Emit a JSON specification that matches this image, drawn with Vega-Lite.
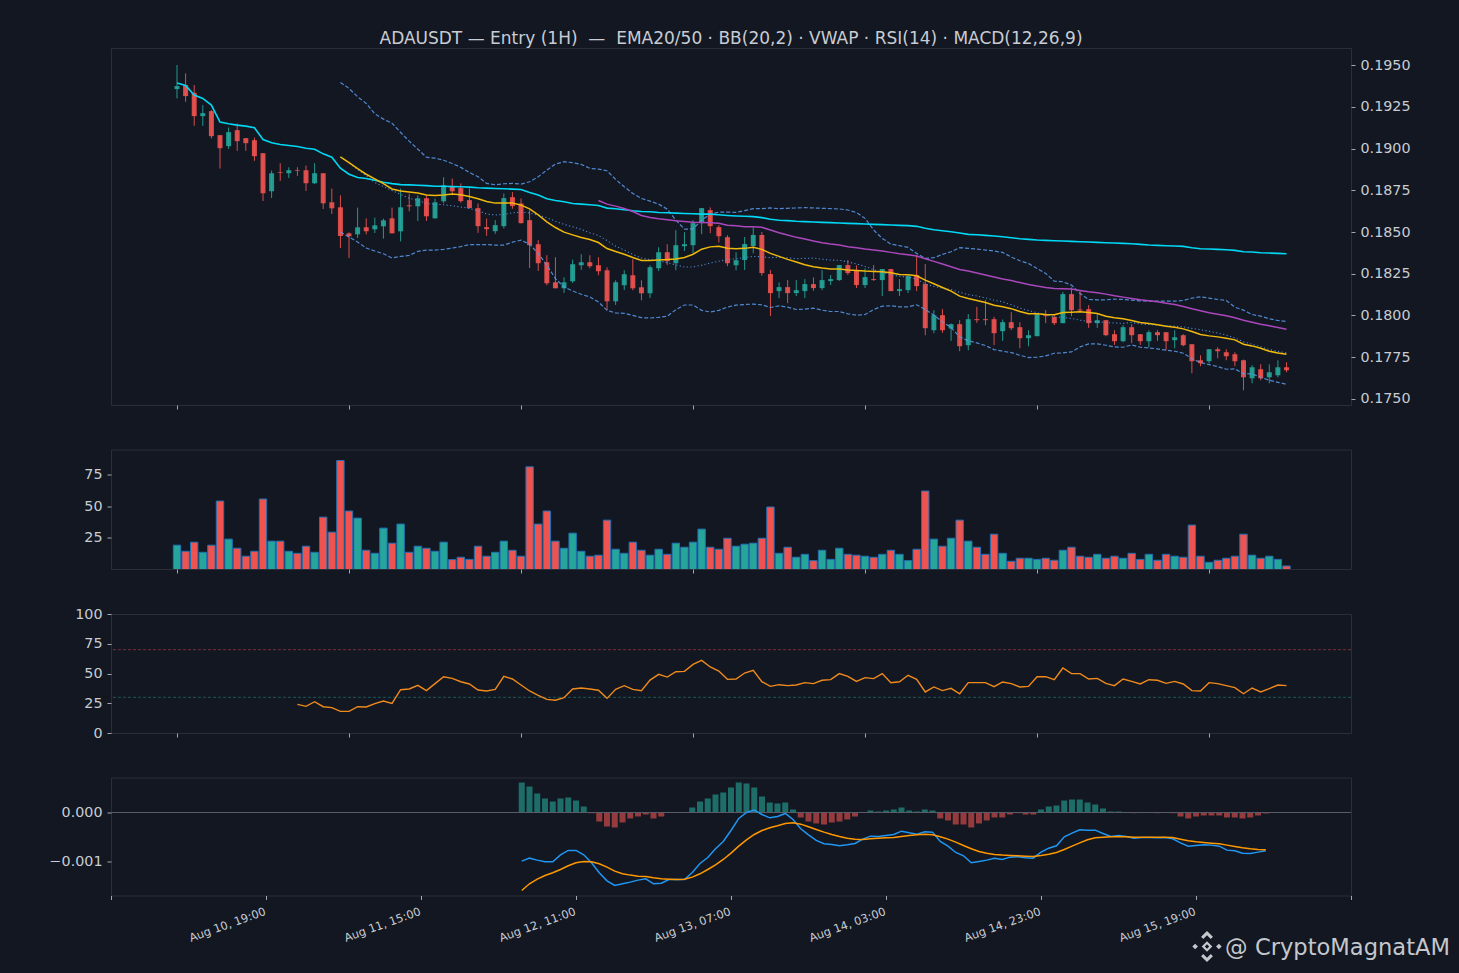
{
"$schema":"https://vega.github.io/schema/vega-lite/v6.json",
"background":"#121721",
"padding":{"left":48,"top":29,"right":11,"bottom":10},
"bounds":"flush",
"spacing":44.5,
"config":{
"font":"DejaVu Sans",
"view":{"stroke":"#2a2e39","fill":"#121721"},
"axis":{"grid":false,"domain":false,"tickColor":"#c8ccd3","tickSize":4,"tickWidth":0.8,"labelColor":"#c8ccd3","labelFontSize":14.3,"labelPadding":5,"labelOverlap":false,"title":null}
},
"data":{"values":[
{"i":0,"o":0.19356,"h":0.195,"l":0.193,"c":0.19374,"v":19.2,"vwap":0.19392},
{"i":1,"o":0.1938,"h":0.1945,"l":0.1928,"c":0.19314,"v":14.4,"vwap":0.19378},
{"i":2,"o":0.19334,"h":0.1938,"l":0.19136,"c":0.19194,"v":21.6,"vwap":0.1932},
{"i":3,"o":0.19194,"h":0.1926,"l":0.19136,"c":0.19212,"v":13.6,"vwap":0.193},
{"i":4,"o":0.19224,"h":0.1923,"l":0.1906,"c":0.19074,"v":19.2,"vwap":0.1926},
{"i":5,"o":0.1908,"h":0.1908,"l":0.1888,"c":0.19002,"v":54.1,"vwap":0.19158},
{"i":6,"o":0.19014,"h":0.19126,"l":0.18998,"c":0.19098,"v":24,"vwap":0.19148},
{"i":7,"o":0.1911,"h":0.1915,"l":0.18986,"c":0.19044,"v":16.8,"vwap":0.1914},
{"i":8,"o":0.19062,"h":0.19062,"l":0.18986,"c":0.19032,"v":10.5,"vwap":0.19134},
{"i":9,"o":0.1905,"h":0.19066,"l":0.18926,"c":0.18954,"v":14.4,"vwap":0.19124},
{"i":10,"o":0.18972,"h":0.18972,"l":0.18686,"c":0.18732,"v":55.7,"vwap":0.19054},
{"i":11,"o":0.18744,"h":0.18868,"l":0.18704,"c":0.18852,"v":22.4,"vwap":0.19034},
{"i":12,"o":0.18858,"h":0.18912,"l":0.18806,"c":0.18854,"v":22.4,"vwap":0.19024},
{"i":13,"o":0.18852,"h":0.18888,"l":0.18824,"c":0.1887,"v":14.4,"vwap":0.19018},
{"i":14,"o":0.1887,"h":0.18888,"l":0.18836,"c":0.18866,"v":12.8,"vwap":0.19012,"rsi":24.1},
{"i":15,"o":0.1887,"h":0.18898,"l":0.18746,"c":0.18792,"v":18.4,"vwap":0.19002,"rsi":22.4},
{"i":16,"o":0.18792,"h":0.18912,"l":0.18788,"c":0.18852,"v":13.6,"vwap":0.18996,"rsi":26.3},
{"i":17,"o":0.18852,"h":0.18852,"l":0.18638,"c":0.18672,"v":41.4,"vwap":0.18968,"rsi":22.1},
{"i":18,"o":0.18678,"h":0.1876,"l":0.18608,"c":0.18642,"v":29.5,"vwap":0.18948,"rsi":21.3},
{"i":19,"o":0.18648,"h":0.1872,"l":0.18404,"c":0.18476,"v":86.1,"vwap":0.18882,"rsi":18.2,"ema20":0.1895,"up":0.19396,"lo":0.185,"mid":0.18948},
{"i":20,"o":0.18492,"h":0.18498,"l":0.18344,"c":0.18474,"v":46.2,"vwap":0.18846,"rsi":18.2,"ema20":0.18916,"up":0.1936,"lo":0.1847,"mid":0.18915},
{"i":21,"o":0.18486,"h":0.18646,"l":0.18464,"c":0.18528,"v":40.6,"vwap":0.18826,"rsi":22.1,"ema20":0.1888,"up":0.1931,"lo":0.1844,"mid":0.18875},
{"i":22,"o":0.18528,"h":0.18582,"l":0.18486,"c":0.18504,"v":15.2,"vwap":0.1882,"rsi":21.9,"ema20":0.18846,"up":0.1927,"lo":0.18404,"mid":0.18837},
{"i":23,"o":0.18516,"h":0.18586,"l":0.18494,"c":0.1854,"v":12.8,"vwap":0.1881,"rsi":24.7,"ema20":0.18818,"up":0.19208,"lo":0.18386,"mid":0.18797},
{"i":24,"o":0.18534,"h":0.1858,"l":0.1846,"c":0.1857,"v":32.7,"vwap":0.18798,"rsi":26.9,"ema20":0.1879,"up":0.19176,"lo":0.1837,"mid":0.18773},
{"i":25,"o":0.18582,"h":0.18646,"l":0.18492,"c":0.18492,"v":20.8,"vwap":0.1879,"rsi":24.9,"ema20":0.18758,"up":0.19152,"lo":0.18344,"mid":0.18748},
{"i":26,"o":0.18504,"h":0.1876,"l":0.18444,"c":0.18648,"v":35.9,"vwap":0.18784,"rsi":36.4,"ema20":0.18746,"up":0.19096,"lo":0.18354,"mid":0.18725},
{"i":27,"o":0.1866,"h":0.1873,"l":0.18624,"c":0.18654,"v":13.6,"vwap":0.18782,"rsi":37,"ema20":0.1874,"up":0.19044,"lo":0.1836,"mid":0.18702},
{"i":28,"o":0.18654,"h":0.1872,"l":0.18566,"c":0.18702,"v":18.4,"vwap":0.1878,"rsi":40.1,"ema20":0.18734,"up":0.18996,"lo":0.18384,"mid":0.1869},
{"i":29,"o":0.18702,"h":0.1872,"l":0.18566,"c":0.18594,"v":16.8,"vwap":0.18778,"rsi":35.6,"ema20":0.18722,"up":0.18948,"lo":0.18392,"mid":0.1867},
{"i":30,"o":0.18582,"h":0.187,"l":0.1858,"c":0.18678,"v":14.4,"vwap":0.18774,"rsi":41.5,"ema20":0.18718,"up":0.18942,"lo":0.18392,"mid":0.18667},
{"i":31,"o":0.18684,"h":0.18828,"l":0.18672,"c":0.1878,"v":21.6,"vwap":0.18774,"rsi":47.3,"ema20":0.18722,"up":0.1893,"lo":0.18396,"mid":0.18663},
{"i":32,"o":0.18774,"h":0.1882,"l":0.1872,"c":0.18744,"v":7.8,"vwap":0.18772,"rsi":45.9,"ema20":0.18728,"up":0.1891,"lo":0.18404,"mid":0.18657},
{"i":33,"o":0.18763,"h":0.18791,"l":0.18675,"c":0.18685,"v":9.7,"vwap":0.18771,"rsi":43.1,"ema20":0.18723,"up":0.18887,"lo":0.18413,"mid":0.1865,"macd":-0.000993,"sig":-0.001591,"hist":0.000612},
{"i":34,"o":0.18691,"h":0.18761,"l":0.18641,"c":0.18643,"v":8,"vwap":0.18769,"rsi":41.2,"ema20":0.18713,"up":0.18857,"lo":0.18425,"mid":0.18641,"macd":-0.000932,"sig":-0.001455,"hist":0.00053},
{"i":35,"o":0.18643,"h":0.18671,"l":0.18495,"c":0.18535,"v":18.4,"vwap":0.18765,"rsi":36.1,"ema20":0.18699,"up":0.18831,"lo":0.18425,"mid":0.18628,"macd":-0.000972,"sig":-0.00136,"hist":0.000388},
{"i":36,"o":0.18529,"h":0.18581,"l":0.18477,"c":0.18517,"v":10.5,"vwap":0.18763,"rsi":35.3,"ema20":0.18683,"up":0.18791,"lo":0.18425,"mid":0.18608,"macd":-0.001006,"sig":-0.001285,"hist":0.000286},
{"i":37,"o":0.18505,"h":0.18571,"l":0.18489,"c":0.18541,"v":13.6,"vwap":0.18761,"rsi":36.7,"ema20":0.18673,"up":0.18783,"lo":0.18421,"mid":0.18602,"macd":-0.001006,"sig":-0.001231,"hist":0.000224},
{"i":38,"o":0.18535,"h":0.18731,"l":0.18521,"c":0.18703,"v":22.4,"vwap":0.18759,"rsi":47.6,"ema20":0.18673,"up":0.18789,"lo":0.18421,"mid":0.18605,"macd":-0.000864,"sig":-0.001163,"hist":0.000286},
{"i":39,"o":0.18709,"h":0.18739,"l":0.18639,"c":0.18655,"v":15.2,"vwap":0.18757,"rsi":45.4,"ema20":0.18673,"up":0.18791,"lo":0.18439,"mid":0.18615,"macd":-0.000775,"sig":-0.001088,"hist":0.000306},
{"i":40,"o":0.18671,"h":0.18701,"l":0.18551,"c":0.18553,"v":10.5,"vwap":0.18755,"rsi":40.3,"ema20":0.18661,"up":0.18787,"lo":0.18451,"mid":0.18619,"macd":-0.000775,"sig":-0.001027,"hist":0.000245},
{"i":41,"o":0.18571,"h":0.18631,"l":0.18285,"c":0.18421,"v":81.1,"vwap":0.18737,"rsi":35.3,"ema20":0.18639,"up":0.18801,"lo":0.18427,"mid":0.18614,"macd":-0.000864,"sig":-0.001,"hist":0.000122},
{"i":42,"o":0.18427,"h":0.18451,"l":0.18267,"c":0.18313,"v":35.9,"vwap":0.18721,"rsi":31.7,"ema20":0.18603,"up":0.18831,"lo":0.18371,"mid":0.18601,"macd":-0.001027,"sig":-0.001006,"hist":-0.000014},
{"i":43,"o":0.18319,"h":0.18361,"l":0.18181,"c":0.18193,"v":46.2,"vwap":0.18699,"rsi":28.3,"ema20":0.18561,"up":0.18871,"lo":0.18301,"mid":0.18586,"macd":-0.001231,"sig":-0.001047,"hist":-0.000184},
{"i":44,"o":0.18199,"h":0.18349,"l":0.18163,"c":0.18163,"v":22.4,"vwap":0.18689,"rsi":27.5,"ema20":0.18527,"up":0.18907,"lo":0.18221,"mid":0.18564,"macd":-0.001394,"sig":-0.001115,"hist":-0.000286},
{"i":45,"o":0.18163,"h":0.18229,"l":0.18135,"c":0.18199,"v":16.8,"vwap":0.18681,"rsi":29.7,"ema20":0.18499,"up":0.18921,"lo":0.18171,"mid":0.18546,"macd":-0.001489,"sig":-0.001197,"hist":-0.000306},
{"i":46,"o":0.18205,"h":0.18335,"l":0.18195,"c":0.18307,"v":28.7,"vwap":0.18671,"rsi":37,"ema20":0.18483,"up":0.18915,"lo":0.18147,"mid":0.18531,"macd":-0.001455,"sig":-0.001251,"hist":-0.000204},
{"i":47,"o":0.18301,"h":0.18367,"l":0.18273,"c":0.18319,"v":14.4,"vwap":0.18667,"rsi":37.8,"ema20":0.18467,"up":0.18905,"lo":0.18127,"mid":0.18516,"macd":-0.001421,"sig":-0.001278,"hist":-0.000122},
{"i":48,"o":0.18319,"h":0.18361,"l":0.18283,"c":0.18295,"v":10.5,"vwap":0.18663,"rsi":37,"ema20":0.18455,"up":0.18881,"lo":0.18111,"mid":0.18496,"macd":-0.00138,"sig":-0.001299,"hist":-0.000082},
{"i":49,"o":0.18301,"h":0.18349,"l":0.18241,"c":0.18265,"v":11.3,"vwap":0.18659,"rsi":35.9,"ema20":0.18437,"ema50":0.18689,"up":0.18877,"lo":0.18081,"mid":0.18479,"macd":-0.001353,"sig":-0.001306,"hist":-0.000041},
{"i":50,"o":0.18271,"h":0.18289,"l":0.18031,"c":0.18085,"v":39,"vwap":0.18643,"rsi":29.1,"ema20":0.18401,"ema50":0.18667,"up":0.18867,"lo":0.18031,"mid":0.18449,"macd":-0.001455,"sig":-0.001333,"hist":-0.000122},
{"i":51,"o":0.18085,"h":0.18211,"l":0.18063,"c":0.18199,"v":16,"vwap":0.18639,"rsi":36.7,"ema20":0.18383,"ema50":0.18655,"up":0.18815,"lo":0.18015,"mid":0.18415,"macd":-0.001442,"sig":-0.001353,"hist":-0.000082},
{"i":52,"o":0.18181,"h":0.18271,"l":0.18153,"c":0.18247,"v":12.8,"vwap":0.18633,"rsi":39.8,"ema20":0.18367,"ema50":0.18641,"up":0.18771,"lo":0.18013,"mid":0.18392,"macd":-0.001367,"sig":-0.00136,"hist":0},
{"i":53,"o":0.18241,"h":0.18337,"l":0.18151,"c":0.18163,"v":21.6,"vwap":0.18627,"rsi":36.7,"ema20":0.18347,"ema50":0.18623,"up":0.18731,"lo":0.18001,"mid":0.18366,"macd":-0.001367,"sig":-0.001367,"hist":0},
{"i":54,"o":0.18169,"h":0.18211,"l":0.18091,"c":0.18133,"v":15.2,"vwap":0.18623,"rsi":35.6,"ema20":0.18329,"ema50":0.18599,"up":0.18701,"lo":0.17987,"mid":0.18344,"macd":-0.001367,"sig":-0.00136,"hist":0},
{"i":55,"o":0.18133,"h":0.18301,"l":0.18105,"c":0.18289,"v":11.3,"vwap":0.18621,"rsi":44.5,"ema20":0.18329,"ema50":0.18587,"up":0.18685,"lo":0.17985,"mid":0.18335,"macd":-0.001224,"sig":-0.001319,"hist":0.000102},
{"i":56,"o":0.18283,"h":0.18409,"l":0.18267,"c":0.18379,"v":16,"vwap":0.18617,"rsi":49.3,"ema20":0.18333,"ema50":0.18579,"up":0.18667,"lo":0.17989,"mid":0.18328,"macd":-0.00104,"sig":-0.001251,"hist":0.000224},
{"i":57,"o":0.18379,"h":0.18427,"l":0.18303,"c":0.18325,"v":12,"vwap":0.18615,"rsi":47,"ema20":0.18335,"ema50":0.18573,"up":0.18637,"lo":0.17995,"mid":0.18316,"macd":-0.000918,"sig":-0.001163,"hist":0.000286},
{"i":58,"o":0.18313,"h":0.18511,"l":0.18271,"c":0.18421,"v":20.8,"vwap":0.18613,"rsi":51.5,"ema20":0.18339,"ema50":0.18567,"up":0.18571,"lo":0.18035,"mid":0.18303,"macd":-0.000741,"sig":-0.001068,"hist":0.000367},
{"i":59,"o":0.18415,"h":0.18499,"l":0.18387,"c":0.18427,"v":17.6,"vwap":0.18611,"rsi":51.8,"ema20":0.18347,"ema50":0.18563,"up":0.18517,"lo":0.18063,"mid":0.1829,"macd":-0.000592,"sig":-0.000959,"hist":0.000408},
{"i":60,"o":0.18421,"h":0.18571,"l":0.18375,"c":0.18553,"v":21.6,"vwap":0.18609,"rsi":57.7,"ema20":0.18367,"ema50":0.18559,"up":0.18519,"lo":0.18063,"mid":0.18291,"macd":-0.000367,"sig":-0.00083,"hist":0.00051},
{"i":61,"o":0.18553,"h":0.18643,"l":0.18487,"c":0.18643,"v":31.9,"vwap":0.18607,"rsi":61,"ema20":0.18397,"ema50":0.18557,"up":0.18571,"lo":0.18031,"mid":0.18301,"macd":-0.000122,"sig":-0.000687,"hist":0.000612},
{"i":62,"o":0.18631,"h":0.18647,"l":0.18493,"c":0.18535,"v":17.6,"vwap":0.18607,"rsi":55.5,"ema20":0.18411,"ema50":0.18555,"up":0.18607,"lo":0.18021,"mid":0.18314,"macd":0,"sig":-0.000558,"hist":0.000592},
{"i":63,"o":0.18529,"h":0.18541,"l":0.18437,"c":0.18475,"v":16,"vwap":0.18603,"rsi":52.1,"ema20":0.18415,"ema50":0.18553,"up":0.18619,"lo":0.18031,"mid":0.18325,"macd":0.000048,"sig":-0.000449,"hist":0.00051},
{"i":64,"o":0.18469,"h":0.18481,"l":0.18295,"c":0.18313,"v":24.7,"vwap":0.18599,"rsi":45.1,"ema20":0.18403,"ema50":0.18541,"up":0.18619,"lo":0.18051,"mid":0.18335,"macd":-0.000041,"sig":-0.000367,"hist":0.000326},
{"i":65,"o":0.18301,"h":0.18379,"l":0.18271,"c":0.18331,"v":18.4,"vwap":0.18596,"rsi":45.4,"ema20":0.184,"ema50":0.18538,"up":0.18618,"lo":0.18062,"mid":0.1834,"macd":-0.000109,"sig":-0.000313,"hist":0.000204},
{"i":66,"o":0.18332,"h":0.1847,"l":0.18272,"c":0.18428,"v":20,"vwap":0.18594,"rsi":50.4,"ema20":0.18402,"ema50":0.18532,"up":0.18628,"lo":0.18066,"mid":0.18347,"macd":-0.000082,"sig":-0.000272,"hist":0.000184},
{"i":67,"o":0.18416,"h":0.18528,"l":0.18372,"c":0.18482,"v":20.8,"vwap":0.18592,"rsi":52.7,"ema20":0.18408,"ema50":0.18532,"up":0.1864,"lo":0.18068,"mid":0.18354,"macd":-0.00002,"sig":-0.000224,"hist":0.000204},
{"i":68,"o":0.18482,"h":0.185,"l":0.18238,"c":0.18254,"v":24.7,"vwap":0.18586,"rsi":43.1,"ema20":0.18396,"ema50":0.18528,"up":0.1864,"lo":0.18064,"mid":0.18352,"macd":-0.000143,"sig":-0.000211,"hist":0.000061},
{"i":69,"o":0.18248,"h":0.18272,"l":0.17996,"c":0.18134,"v":49.4,"vwap":0.18576,"rsi":39.2,"ema20":0.18372,"ema50":0.18512,"up":0.18644,"lo":0.18048,"mid":0.18346,"macd":-0.000333,"sig":-0.000238,"hist":-0.000102},
{"i":70,"o":0.18146,"h":0.18198,"l":0.18104,"c":0.1817,"v":12.8,"vwap":0.1857,"rsi":40.6,"ema20":0.18354,"ema50":0.18496,"up":0.1864,"lo":0.18058,"mid":0.18349,"macd":-0.000456,"sig":-0.000292,"hist":-0.000184},
{"i":71,"o":0.1817,"h":0.18212,"l":0.18074,"c":0.18134,"v":17.6,"vwap":0.18568,"rsi":39.8,"ema20":0.18336,"ema50":0.18482,"up":0.18642,"lo":0.1805,"mid":0.18346,"macd":-0.000571,"sig":-0.000347,"hist":-0.000224},
{"i":72,"o":0.18134,"h":0.18212,"l":0.18116,"c":0.18152,"v":9.7,"vwap":0.18564,"rsi":40.3,"ema20":0.1832,"ema50":0.18468,"up":0.18644,"lo":0.18036,"mid":0.1834,"macd":-0.000639,"sig":-0.000401,"hist":-0.000245},
{"i":73,"o":0.18146,"h":0.18218,"l":0.18104,"c":0.18188,"v":12,"vwap":0.18562,"rsi":42.3,"ema20":0.18304,"ema50":0.18458,"up":0.18646,"lo":0.18038,"mid":0.18342,"macd":-0.000653,"sig":-0.000449,"hist":-0.000204},
{"i":74,"o":0.18188,"h":0.18228,"l":0.18148,"c":0.18164,"v":7,"vwap":0.1856,"rsi":41.5,"ema20":0.18292,"ema50":0.18446,"up":0.18644,"lo":0.18044,"mid":0.18344,"macd":-0.00068,"sig":-0.00049,"hist":-0.000184},
{"i":75,"o":0.18164,"h":0.18272,"l":0.18152,"c":0.18212,"v":15.2,"vwap":0.18558,"rsi":44.3,"ema20":0.18284,"ema50":0.18436,"up":0.18642,"lo":0.18032,"mid":0.18337,"macd":-0.00066,"sig":-0.000524,"hist":-0.000143},
{"i":76,"o":0.18206,"h":0.18242,"l":0.18182,"c":0.18218,"v":8,"vwap":0.18556,"rsi":44.8,"ema20":0.18278,"ema50":0.18428,"up":0.1864,"lo":0.18024,"mid":0.18332,"macd":-0.000632,"sig":-0.000544,"hist":-0.000082},
{"i":77,"o":0.18212,"h":0.18302,"l":0.18208,"c":0.18302,"v":16.8,"vwap":0.18554,"rsi":49.9,"ema20":0.18278,"ema50":0.18422,"up":0.18638,"lo":0.18024,"mid":0.18331,"macd":-0.000544,"sig":-0.000551,"hist":0.000002},
{"i":78,"o":0.18302,"h":0.18332,"l":0.18242,"c":0.18254,"v":12,"vwap":0.18552,"rsi":47.6,"ema20":0.18272,"ema50":0.18412,"up":0.18632,"lo":0.1801,"mid":0.18321,"macd":-0.000483,"sig":-0.000537,"hist":0.000041},
{"i":79,"o":0.18272,"h":0.183,"l":0.18164,"c":0.18182,"v":11.3,"vwap":0.1855,"rsi":43.4,"ema20":0.1827,"ema50":0.18406,"up":0.18616,"lo":0.18002,"mid":0.18309,"macd":-0.00049,"sig":-0.000524,"hist":0.00002},
{"i":80,"o":0.18182,"h":0.18282,"l":0.18164,"c":0.1823,"v":10.5,"vwap":0.18548,"rsi":46.5,"ema20":0.18266,"ema50":0.18398,"up":0.18582,"lo":0.18006,"mid":0.18294,"macd":-0.000469,"sig":-0.000517,"hist":0.000041},
{"i":81,"o":0.18218,"h":0.18302,"l":0.18208,"c":0.18212,"v":9.7,"vwap":0.18546,"rsi":45.7,"ema20":0.18264,"ema50":0.18392,"up":0.18512,"lo":0.18036,"mid":0.18274,"macd":-0.000449,"sig":-0.00051,"hist":0.000061},
{"i":82,"o":0.18212,"h":0.18278,"l":0.18116,"c":0.18278,"v":12,"vwap":0.18544,"rsi":49.9,"ema20":0.18262,"ema50":0.18386,"up":0.18462,"lo":0.18056,"mid":0.18259,"macd":-0.000381,"sig":-0.00049,"hist":0.000102},
{"i":83,"o":0.18278,"h":0.18278,"l":0.18146,"c":0.18146,"v":15.2,"vwap":0.18542,"rsi":42.3,"ema20":0.18256,"ema50":0.18378,"up":0.18428,"lo":0.18058,"mid":0.18243,"macd":-0.000415,"sig":-0.000469,"hist":0.000041},
{"i":84,"o":0.18146,"h":0.18218,"l":0.18116,"c":0.18158,"v":12,"vwap":0.1854,"rsi":43.1,"ema20":0.18246,"ema50":0.1837,"up":0.18418,"lo":0.18052,"mid":0.18235,"macd":-0.000442,"sig":-0.000456,"hist":0.00002},
{"i":85,"o":0.18152,"h":0.18242,"l":0.18134,"c":0.18236,"v":7,"vwap":0.18538,"rsi":48.5,"ema20":0.18244,"ema50":0.18364,"up":0.18408,"lo":0.18052,"mid":0.1823,"macd":-0.000394,"sig":-0.000442,"hist":0.000061},
{"i":86,"o":0.18242,"h":0.18362,"l":0.18146,"c":0.18176,"v":16,"vwap":0.18534,"rsi":45.1,"ema20":0.18238,"ema50":0.18356,"up":0.18372,"lo":0.18064,"mid":0.18218,"macd":-0.000401,"sig":-0.000456,"hist":0.000041},
{"i":87,"o":0.18188,"h":0.18308,"l":0.17882,"c":0.17924,"v":62,"vwap":0.18522,"rsi":34.5,"ema20":0.18212,"ema50":0.1834,"up":0.18342,"lo":0.18036,"mid":0.18189,"macd":-0.000592,"sig":-0.000496,"hist":-0.000122},
{"i":88,"o":0.17912,"h":0.18032,"l":0.17894,"c":0.18002,"v":24,"vwap":0.18514,"rsi":38.7,"ema20":0.1819,"ema50":0.18324,"up":0.18346,"lo":0.18002,"mid":0.18174,"macd":-0.000687,"sig":-0.000544,"hist":-0.000163},
{"i":89,"o":0.18002,"h":0.18038,"l":0.17896,"c":0.17912,"v":18.4,"vwap":0.18508,"rsi":35.6,"ema20":0.18168,"ema50":0.18308,"up":0.18366,"lo":0.17962,"mid":0.18164,"macd":-0.000816,"sig":-0.000605,"hist":-0.000245},
{"i":90,"o":0.17922,"h":0.17952,"l":0.17848,"c":0.17948,"v":24.7,"vwap":0.18502,"rsi":37.5,"ema20":0.18146,"ema50":0.18292,"up":0.18382,"lo":0.17928,"mid":0.18155,"macd":-0.000884,"sig":-0.000673,"hist":-0.000245},
{"i":91,"o":0.17948,"h":0.17972,"l":0.17786,"c":0.17816,"v":39,"vwap":0.18494,"rsi":33,"ema20":0.18116,"ema50":0.18276,"up":0.18406,"lo":0.17872,"mid":0.18139,"macd":-0.001027,"sig":-0.000741,"hist":-0.000306},
{"i":92,"o":0.17822,"h":0.18008,"l":0.17792,"c":0.17978,"v":22.4,"vwap":0.18486,"rsi":42.3,"ema20":0.18102,"ema50":0.18266,"up":0.18402,"lo":0.17848,"mid":0.18125,"macd":-0.001,"sig":-0.000796,"hist":-0.000224},
{"i":93,"o":0.17978,"h":0.18052,"l":0.17956,"c":0.17972,"v":17.6,"vwap":0.18484,"rsi":42.3,"ema20":0.1809,"ema50":0.18254,"up":0.18398,"lo":0.17836,"mid":0.18117,"macd":-0.000972,"sig":-0.00083,"hist":-0.000163},
{"i":94,"o":0.17978,"h":0.18092,"l":0.17942,"c":0.17972,"v":12,"vwap":0.1848,"rsi":42.3,"ema20":0.18078,"ema50":0.18242,"up":0.18392,"lo":0.1782,"mid":0.18106,"macd":-0.000932,"sig":-0.000857,"hist":-0.000102},
{"i":95,"o":0.17978,"h":0.17992,"l":0.17822,"c":0.17894,"v":27.9,"vwap":0.18476,"rsi":38.9,"ema20":0.18062,"ema50":0.1823,"up":0.18386,"lo":0.17796,"mid":0.18091,"macd":-0.000959,"sig":-0.00087,"hist":-0.000102},
{"i":96,"o":0.17906,"h":0.17976,"l":0.17848,"c":0.1796,"v":12.8,"vwap":0.18472,"rsi":42.9,"ema20":0.18052,"ema50":0.18218,"up":0.18378,"lo":0.17786,"mid":0.18082,"macd":-0.000911,"sig":-0.000877,"hist":-0.000041},
{"i":97,"o":0.1796,"h":0.1802,"l":0.17912,"c":0.17924,"v":6.5,"vwap":0.18466,"rsi":41.5,"ema20":0.18041,"ema50":0.18209,"up":0.1835,"lo":0.17778,"mid":0.18064,"macd":-0.000904,"sig":-0.000884,"hist":-0.000014},
{"i":98,"o":0.1793,"h":0.1796,"l":0.17804,"c":0.17864,"v":8.9,"vwap":0.1846,"rsi":38.7,"ema20":0.18024,"ema50":0.18197,"up":0.18328,"lo":0.17762,"mid":0.18045,"macd":-0.000925,"sig":-0.000891,"hist":-0.000041},
{"i":99,"o":0.17864,"h":0.17912,"l":0.17816,"c":0.17882,"v":8.9,"vwap":0.18456,"rsi":39.2,"ema20":0.1801,"ema50":0.18186,"up":0.18312,"lo":0.17748,"mid":0.1803,"macd":-0.000932,"sig":-0.000898,"hist":-0.000041},
{"i":100,"o":0.17876,"h":0.18008,"l":0.17876,"c":0.18008,"v":8,"vwap":0.18452,"rsi":47.3,"ema20":0.1801,"ema50":0.18176,"up":0.18282,"lo":0.1775,"mid":0.18016,"macd":-0.000809,"sig":-0.000877,"hist":0.000061},
{"i":101,"o":0.18002,"h":0.18032,"l":0.17954,"c":0.17996,"v":8.9,"vwap":0.1845,"rsi":47.3,"ema20":0.18006,"ema50":0.18168,"up":0.18252,"lo":0.17758,"mid":0.18005,"macd":-0.000728,"sig":-0.00085,"hist":0.000122},
{"i":102,"o":0.1799,"h":0.18002,"l":0.17942,"c":0.17954,"v":7.3,"vwap":0.18448,"rsi":44.8,"ema20":0.18004,"ema50":0.18162,"up":0.18206,"lo":0.17774,"mid":0.1799,"macd":-0.00068,"sig":-0.000816,"hist":0.000143},
{"i":103,"o":0.17954,"h":0.1814,"l":0.17954,"c":0.18128,"v":15.2,"vwap":0.18446,"rsi":54.6,"ema20":0.18018,"ema50":0.1816,"up":0.18202,"lo":0.17776,"mid":0.17989,"macd":-0.000496,"sig":-0.000755,"hist":0.000245},
{"i":104,"o":0.18128,"h":0.18168,"l":0.17996,"c":0.18032,"v":17.6,"vwap":0.18444,"rsi":49.9,"ema20":0.1802,"ema50":0.18158,"up":0.18182,"lo":0.17782,"mid":0.17982,"macd":-0.000422,"sig":-0.000687,"hist":0.000265},
{"i":105,"o":0.18036,"h":0.18146,"l":0.18026,"c":0.1803,"v":10.5,"vwap":0.18442,"rsi":49.9,"ema20":0.18022,"ema50":0.1815,"up":0.18132,"lo":0.17812,"mid":0.17972,"macd":-0.000354,"sig":-0.000619,"hist":0.000265},
{"i":106,"o":0.18038,"h":0.18062,"l":0.17926,"c":0.17954,"v":9.7,"vwap":0.1844,"rsi":45.4,"ema20":0.18018,"ema50":0.18142,"up":0.18096,"lo":0.1783,"mid":0.17963,"macd":-0.00036,"sig":-0.000558,"hist":0.000204},
{"i":107,"o":0.17954,"h":0.18008,"l":0.17926,"c":0.17972,"v":12,"vwap":0.18438,"rsi":45.9,"ema20":0.18012,"ema50":0.18136,"up":0.18094,"lo":0.1783,"mid":0.17962,"macd":-0.00036,"sig":-0.000517,"hist":0.000163},
{"i":108,"o":0.17972,"h":0.17972,"l":0.17876,"c":0.17882,"v":8.9,"vwap":0.18436,"rsi":41.7,"ema20":0.17996,"ema50":0.18128,"up":0.18094,"lo":0.17822,"mid":0.17958,"macd":-0.000428,"sig":-0.000503,"hist":0.000082},
{"i":109,"o":0.17888,"h":0.17912,"l":0.17824,"c":0.17846,"v":10.5,"vwap":0.18434,"rsi":39.8,"ema20":0.17986,"ema50":0.18118,"up":0.18098,"lo":0.17812,"mid":0.17955,"macd":-0.00049,"sig":-0.000496,"hist":0.00002},
{"i":110,"o":0.17846,"h":0.17942,"l":0.1784,"c":0.1793,"v":8.9,"vwap":0.18432,"rsi":45.4,"ema20":0.1798,"ema50":0.1811,"up":0.18096,"lo":0.1781,"mid":0.17953,"macd":-0.000469,"sig":-0.000496,"hist":0.00002},
{"i":111,"o":0.1793,"h":0.17948,"l":0.17834,"c":0.17882,"v":12.8,"vwap":0.1843,"rsi":43.4,"ema20":0.1797,"ema50":0.18102,"up":0.18092,"lo":0.17824,"mid":0.17958,"macd":-0.00049,"sig":-0.000496,"hist":0},
{"i":112,"o":0.17888,"h":0.17888,"l":0.17824,"c":0.17846,"v":8,"vwap":0.18426,"rsi":41.2,"ema20":0.17958,"ema50":0.18094,"up":0.18088,"lo":0.1781,"mid":0.17949,"macd":-0.000524,"sig":-0.000503,"hist":-0.000014},
{"i":113,"o":0.17846,"h":0.17912,"l":0.17808,"c":0.179,"v":12,"vwap":0.18422,"rsi":44.8,"ema20":0.17952,"ema50":0.18088,"up":0.18086,"lo":0.17806,"mid":0.17946,"macd":-0.00051,"sig":-0.000503,"hist":0},
{"i":114,"o":0.179,"h":0.17912,"l":0.17848,"c":0.17882,"v":7.3,"vwap":0.1842,"rsi":44.3,"ema20":0.17944,"ema50":0.18082,"up":0.18086,"lo":0.178,"mid":0.17943,"macd":-0.00051,"sig":-0.000503,"hist":0},
{"i":115,"o":0.179,"h":0.179,"l":0.17792,"c":0.17846,"v":12,"vwap":0.18418,"rsi":41.7,"ema20":0.17936,"ema50":0.18074,"up":0.18086,"lo":0.17792,"mid":0.17939,"macd":-0.000517,"sig":-0.000503,"hist":-0.000014},
{"i":116,"o":0.17852,"h":0.17912,"l":0.17804,"c":0.1787,"v":10.5,"vwap":0.18416,"rsi":43.4,"ema20":0.1793,"ema50":0.18066,"up":0.18086,"lo":0.17786,"mid":0.17936,"macd":-0.00051,"sig":-0.000503,"hist":0},
{"i":117,"o":0.17882,"h":0.17888,"l":0.17816,"c":0.17822,"v":9.7,"vwap":0.18414,"rsi":41.2,"ema20":0.1792,"ema50":0.18054,"up":0.1809,"lo":0.17774,"mid":0.17932,"macd":-0.000537,"sig":-0.00051,"hist":-0.000014},
{"i":118,"o":0.17828,"h":0.17828,"l":0.17654,"c":0.17726,"v":35.1,"vwap":0.18406,"rsi":35.6,"ema20":0.17904,"ema50":0.1804,"up":0.18104,"lo":0.17742,"mid":0.17923,"macd":-0.000619,"sig":-0.000544,"hist":-0.000082},
{"i":119,"o":0.17732,"h":0.17762,"l":0.17696,"c":0.17714,"v":10.5,"vwap":0.184,"rsi":35.3,"ema20":0.17886,"ema50":0.18028,"up":0.18112,"lo":0.17718,"mid":0.17915,"macd":-0.000687,"sig":-0.000578,"hist":-0.000122},
{"i":120,"o":0.17726,"h":0.17798,"l":0.17714,"c":0.17798,"v":5.7,"vwap":0.18398,"rsi":42.3,"ema20":0.17878,"ema50":0.18016,"up":0.18104,"lo":0.17706,"mid":0.17905,"macd":-0.000673,"sig":-0.000598,"hist":-0.000082},
{"i":121,"o":0.17798,"h":0.1781,"l":0.17744,"c":0.17786,"v":7.3,"vwap":0.18396,"rsi":41.5,"ema20":0.17872,"ema50":0.18008,"up":0.18096,"lo":0.17694,"mid":0.17895,"macd":-0.00066,"sig":-0.000612,"hist":-0.000061},
{"i":122,"o":0.1778,"h":0.17798,"l":0.17732,"c":0.17756,"v":8.9,"vwap":0.18394,"rsi":39.8,"ema20":0.17864,"ema50":0.17998,"up":0.1809,"lo":0.17678,"mid":0.17884,"macd":-0.000666,"sig":-0.000626,"hist":-0.000061},
{"i":123,"o":0.17768,"h":0.1778,"l":0.17696,"c":0.17726,"v":10.5,"vwap":0.1839,"rsi":38.1,"ema20":0.17854,"ema50":0.17986,"up":0.1805,"lo":0.1768,"mid":0.17865,"macd":-0.000687,"sig":-0.000639,"hist":-0.000061},
{"i":124,"o":0.17732,"h":0.17736,"l":0.17552,"c":0.1763,"v":27.9,"vwap":0.18382,"rsi":33,"ema20":0.17828,"ema50":0.17972,"up":0.18032,"lo":0.17652,"mid":0.17842,"macd":-0.000768,"sig":-0.000666,"hist":-0.000102},
{"i":125,"o":0.17624,"h":0.17702,"l":0.17594,"c":0.1769,"v":11.3,"vwap":0.1838,"rsi":37.8,"ema20":0.17818,"ema50":0.1796,"up":0.18006,"lo":0.1765,"mid":0.17828,"macd":-0.000782,"sig":-0.000694,"hist":-0.000102},
{"i":126,"o":0.17678,"h":0.17708,"l":0.17612,"c":0.17624,"v":8.9,"vwap":0.18376,"rsi":34.5,"ema20":0.17804,"ema50":0.17948,"up":0.17996,"lo":0.1763,"mid":0.17813,"macd":-0.00083,"sig":-0.000721,"hist":-0.000122},
{"i":127,"o":0.1763,"h":0.17708,"l":0.17594,"c":0.1766,"v":10.5,"vwap":0.18374,"rsi":37.3,"ema20":0.17786,"ema50":0.17938,"up":0.1798,"lo":0.17612,"mid":0.17796,"macd":-0.000836,"sig":-0.000741,"hist":-0.000102},
{"i":128,"o":0.17642,"h":0.17732,"l":0.1763,"c":0.1769,"v":8,"vwap":0.18372,"rsi":40.3,"ema20":0.17776,"ema50":0.17928,"up":0.1797,"lo":0.176,"mid":0.17785,"macd":-0.000809,"sig":-0.000755,"hist":-0.000061},
{"i":129,"o":0.1769,"h":0.1772,"l":0.1766,"c":0.17672,"v":2.8,"vwap":0.1837,"rsi":39.8,"ema20":0.17768,"ema50":0.17918,"up":0.17964,"lo":0.17588,"mid":0.17776,"macd":-0.000782,"sig":-0.000762,"hist":-0.00002}
]},
"vconcat":[
{
"width":1240,"height":357,
"title":{"text":"ADAUSDT — Entry (1H) \u00a0—\u00a0 EMA20/50 · BB(20,2) · VWAP · RSI(14) · MACD(12,26,9)","color":"#c8ccd3","fontSize":17,"fontWeight":"normal","anchor":"middle","offset":0},
"encoding":{"x":{"field":"i","type":"quantitative","scale":{"domain":[-7.674,136.5],"nice":false,"zero":false,"padding":0},"axis":{"values":[0,20,40,60,80,100,120],"labels":false}}},
"layer":[
{"mark":{"type":"rule","strokeWidth":1,"opacity":0.9},"encoding":{"y":{"field":"l","type":"quantitative","scale":{"domain":[0.17464,0.19602],"nice":false,"zero":false},"axis":{"orient":"right","values":[0.175,0.1775,0.18,0.1825,0.185,0.1875,0.19,0.1925,0.195],"format":".4f"}},"y2":{"field":"h"},"color":{"condition":{"test":"datum.c >= datum.o","value":"#26a69a"},"value":"#ef5350"}}},
{"mark":{"type":"bar","width":5,"opacity":0.9},"encoding":{"y":{"field":"o","type":"quantitative","scale":{"domain":[0.17464,0.19602],"nice":false,"zero":false}},"y2":{"field":"c"},"color":{"condition":{"test":"datum.c >= datum.o","value":"#26a69a"},"value":"#ef5350"}}},
{"mark":{"type":"line","color":"#5b9cf0","strokeWidth":1.2,"strokeDash":[4,2],"opacity":0.85},"encoding":{"y":{"field":"up","type":"quantitative","scale":{"domain":[0.17464,0.19602],"nice":false,"zero":false}}}},
{"mark":{"type":"line","color":"#5b9cf0","strokeWidth":1.2,"strokeDash":[4,2],"opacity":0.85},"encoding":{"y":{"field":"lo","type":"quantitative","scale":{"domain":[0.17464,0.19602],"nice":false,"zero":false}}}},
{"mark":{"type":"line","color":"#5b9cf0","strokeWidth":1.1,"strokeDash":[1.2,2.4],"opacity":0.85},"encoding":{"y":{"field":"mid","type":"quantitative","scale":{"domain":[0.17464,0.19602],"nice":false,"zero":false}}}},
{"mark":{"type":"line","color":"#00d8f5","strokeWidth":1.6},"encoding":{"y":{"field":"vwap","type":"quantitative","scale":{"domain":[0.17464,0.19602],"nice":false,"zero":false}}}},
{"mark":{"type":"line","color":"#f0b90b","strokeWidth":1.5},"encoding":{"y":{"field":"ema20","type":"quantitative","scale":{"domain":[0.17464,0.19602],"nice":false,"zero":false}}}},
{"mark":{"type":"line","color":"#ab47bc","strokeWidth":1.5},"encoding":{"y":{"field":"ema50","type":"quantitative","scale":{"domain":[0.17464,0.19602],"nice":false,"zero":false}}}}
]
},
{
"width":1240,"height":119.5,
"mark":{"type":"bar","width":7.4,"orient":"vertical","stroke":"#2171b5","strokeWidth":1,"clip":true},
"encoding":{
"x":{"field":"i","type":"quantitative","scale":{"domain":[-7.674,136.5],"nice":false,"zero":false,"padding":0},"axis":{"values":[0,20,40,60,80,100,120],"labels":false}},
"y":{"field":"v","type":"quantitative","scale":{"domain":[0.4,94.8],"nice":false,"zero":false},"axis":{"values":[25,50,75]}},
"color":{"condition":{"test":"datum.c >= datum.o","value":"#26a69a"},"value":"#ef5350"}
}
},
{
"width":1240,"height":119,
"layer":[
{"data":{"values":[{"level":70,"band":"over"},{"level":30,"band":"under"}]},"mark":{"type":"rule","strokeWidth":0.9,"strokeDash":[3,2],"opacity":0.5},"encoding":{"y":{"field":"level","type":"quantitative","scale":{"domain":[0,100],"nice":false},"axis":{"values":[0,25,50,75,100]}},"color":{"field":"band","type":"nominal","legend":null,"scale":{"domain":["over","under"],"range":["#ef5350","#26a69a"]}}}},
{"mark":{"type":"line","color":"#f08a1c","strokeWidth":1.4},"encoding":{"x":{"field":"i","type":"quantitative","scale":{"domain":[-7.674,136.5],"nice":false,"zero":false},"axis":{"values":[0,20,40,60,80,100,120],"labels":false}},"y":{"field":"rsi","type":"quantitative","scale":{"domain":[0,100],"nice":false},"axis":{"values":[0,25,50,75,100]}}}}
]
},
{
"width":1240,"height":118,
"layer":[
{"transform":[{"filter":"isValid(datum.hist)"}],"mark":{"type":"bar","width":6,"orient":"vertical","opacity":0.6},"encoding":{"x":{"field":"i","type":"quantitative","scale":{"domain":[-20,140],"nice":false,"zero":false,"padding":0},"axis":{"values":[-20,0,20,40,60,80,100,120,140],"labelAngle":-20,"labelAlign":"right","labelBaseline":"top","labelFontSize":11.4,"labelPadding":6,"labelOffset":-3,"labelExpr":"{'0':'Aug 10, 19:00','20':'Aug 11, 15:00','40':'Aug 12, 11:00','60':'Aug 13, 07:00','80':'Aug 14, 03:00','100':'Aug 14, 23:00','120':'Aug 15, 19:00'}[datum.value] || ''"}},"y":{"field":"hist","type":"quantitative","scale":{"domain":[-0.001694,0.000714],"nice":false,"zero":false},"axis":{"values":[0,-0.001],"format":".3f"}},"color":{"condition":{"test":"datum.hist >= 0","value":"#26a69a"},"value":"#ef5350"}}},
{"data":{"values":[{"level":0}]},"mark":{"type":"rule","color":"#5a5e68","strokeWidth":1},"encoding":{"y":{"field":"level","type":"quantitative","scale":{"domain":[-0.001694,0.000714],"nice":false,"zero":false}}}},
{"mark":{"type":"line","color":"#2196f3","strokeWidth":1.5},"encoding":{"x":{"field":"i","type":"quantitative","scale":{"domain":[-20,140],"nice":false,"zero":false,"padding":0}},"y":{"field":"macd","type":"quantitative","scale":{"domain":[-0.001694,0.000714],"nice":false,"zero":false}}}},
{"mark":{"type":"line","color":"#ff9800","strokeWidth":1.5},"encoding":{"x":{"field":"i","type":"quantitative","scale":{"domain":[-20,140],"nice":false,"zero":false,"padding":0}},"y":{"field":"sig","type":"quantitative","scale":{"domain":[-0.001694,0.000714],"nice":false,"zero":false}}}},
{"data":{"values":[{"pos":140,"level":-0.001694,"label":"@ CryptoMagnatAM"}]},"mark":{"type":"text","align":"right","baseline":"alphabetic","dx":99,"dy":59,"fontSize":22.6,"color":"#c4c7cc"},"encoding":{"x":{"field":"pos","type":"quantitative","scale":{"domain":[-20,140],"nice":false,"zero":false,"padding":0}},"y":{"field":"level","type":"quantitative","scale":{"domain":[-0.001694,0.000714],"nice":false,"zero":false}},"text":{"field":"label"}}},
{"data":{"values":[{"pos":140,"level":-0.001694}]},"mark":{"type":"point","filled":true,"opacity":1,"size":3900,"color":"#c4c7cc","xOffset":-144,"yOffset":51,"shape":"M0,-0.5L0.19,-0.31L0.12,-0.24L0,-0.36L-0.12,-0.24L-0.19,-0.31ZM0,0.5L0.19,0.31L0.12,0.24L0,0.36L-0.12,0.24L-0.19,0.31ZM-0.38,-0.09L-0.29,0L-0.38,0.09L-0.47,0ZM0.38,-0.09L0.47,0L0.38,0.09L0.29,0ZM0,-0.17L0.17,0L0,0.17L-0.17,0ZM0,-0.07L-0.07,0L0,0.07L0.07,0Z"},"encoding":{"x":{"field":"pos","type":"quantitative","scale":{"domain":[-20,140],"nice":false,"zero":false,"padding":0}},"y":{"field":"level","type":"quantitative","scale":{"domain":[-0.001694,0.000714],"nice":false,"zero":false}}}}
]
}
]
}
